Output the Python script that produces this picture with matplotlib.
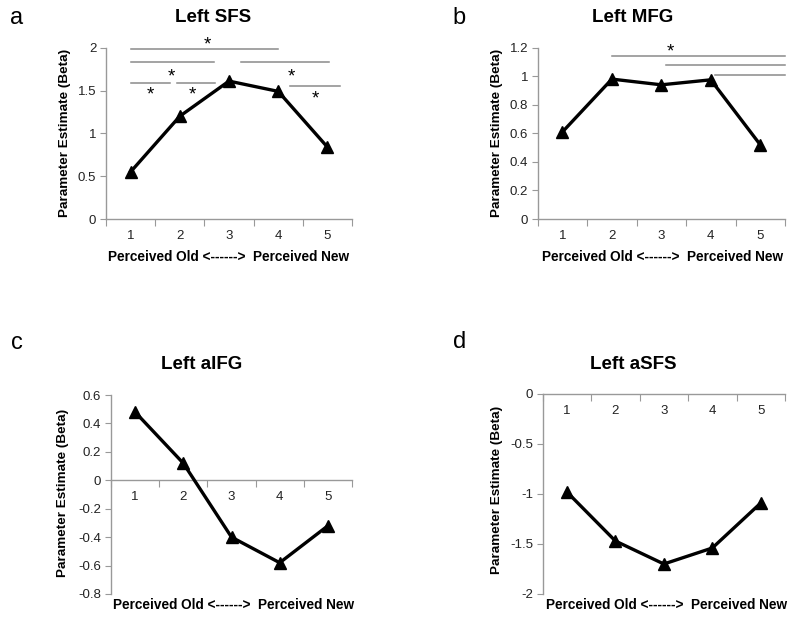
import matplotlib
matplotlib.use("Agg")
import matplotlib.pyplot as plt
from matplotlib.ticker import FuncFormatter, FixedLocator

plt.rcParams['font.family'] = ['Liberation Sans', 'DejaVu Sans']
plt.rcParams['axes.unicode_minus'] = False

categories = [1, 2, 3, 4, 5]
sfs = [0.55, 1.20, 1.61, 1.49, 0.84]
mfg = [0.61, 0.98, 0.94, 0.975, 0.52]
aifg = [0.48, 0.12, -0.40, -0.58, -0.32]
asfs = [-0.98, -1.47, -1.70, -1.54, -1.09]

# significance bars: (x_start, x_end, y)
sfs_bars = [(1.0, 4.0, 1.99), (1.0, 2.7, 1.835), (3.24, 5.03, 1.835),
            (1.0, 1.8, 1.59), (1.94, 2.72, 1.59), (4.24, 5.25, 1.555)]
sfs_stars = [(2.57, 2.03), (1.82, 1.66), (4.26, 1.66), (1.41, 1.45), (2.26, 1.45), (4.75, 1.40)]
mfg_bars = [(2.01, 5.5, 1.145), (3.09, 5.5, 1.078), (4.08, 5.5, 1.01)]
mfg_stars = [(3.19, 1.17)]

W, H = 800, 621
fig = plt.figure(figsize=(8, 6.21), dpi=100)

def px_axes(left, right, top, bottom):
    return fig.add_axes([left / W, 1 - bottom / H, (right - left) / W, (bottom - top) / H])

def fmt(v, pos):
    return '%g' % round(v, 2)

def style(ax, vals, ylim, yticks, spine_at_zero=False):
    ax.plot(categories, vals, color='black', lw=2.4, marker='^', ms=8, zorder=3, clip_on=False)
    ax.set_xlim(0.5, 5.5)
    ax.set_ylim(*ylim)
    ax.set_yticks(yticks)
    ax.yaxis.set_major_formatter(FuncFormatter(fmt))
    ax.xaxis.set_major_locator(FixedLocator([0.5, 1.5, 2.5, 3.5, 4.5, 5.5]))
    ax.xaxis.set_major_formatter(FuncFormatter(lambda v, p: ''))
    ax.xaxis.set_minor_locator(FixedLocator(categories))
    ax.xaxis.set_minor_formatter(FuncFormatter(lambda v, p: '%d' % v))
    ax.tick_params(axis='x', which='minor', length=0, labelsize=9.5, colors='#222222', pad=8)
    ax.tick_params(axis='x', which='major', length=5, color='#999999', direction='out')
    ax.tick_params(axis='y', length=4, color='#999999', labelsize=9.5, labelcolor='#222222', pad=3)
    for s in ['top', 'right']:
        ax.spines[s].set_visible(False)
    for s in ['left', 'bottom']:
        ax.spines[s].set_color('#999999')
        ax.spines[s].set_linewidth(1.0)
    if spine_at_zero:
        ax.spines['bottom'].set_position(('data', 0))
    ax.patch.set_alpha(0)

ylab = 'Parameter Estimate (Beta)'
xlab = 'Perceived Old <------>  Perceived New'

# Panel a
axa = px_axes(106, 352, 47.7, 219)
style(axa, sfs, (0, 2), [0, 0.5, 1, 1.5, 2])
for x0, x1, y in sfs_bars:
    axa.plot([x0, x1], [y, y], color='#8a8a8a', lw=1.1, clip_on=False)
for x, y in sfs_stars:
    axa.text(x, y, '*', ha='center', va='center', fontsize=13.5, clip_on=False)

# Panel b
axb = px_axes(537.7, 785, 47.7, 219)
style(axb, mfg, (0, 1.2), [0, 0.2, 0.4, 0.6, 0.8, 1.0, 1.2])
for x0, x1, y in mfg_bars:
    axb.plot([x0, x1], [y, y], color='#8a8a8a', lw=1.1, clip_on=False)
for x, y in mfg_stars:
    axb.text(x, y, '*', ha='center', va='center', fontsize=13.5, clip_on=False)

# Panel c
axc = px_axes(111, 352, 395, 594)
style(axc, aifg, (-0.8, 0.6), [-0.8, -0.6, -0.4, -0.2, 0, 0.2, 0.4, 0.6], spine_at_zero=True)

# Panel d
axd = px_axes(542.7, 785, 394, 594)
style(axd, asfs, (-2, 0), [-2, -1.5, -1, -0.5, 0], spine_at_zero=True)

def ftext(x, y, s, **kw):
    fig.text(x / W, 1 - y / H, s, **kw)

# titles
ftext(213, 18, 'Left SFS', ha='center', va='center', fontsize=13.5, fontweight='bold')
ftext(633, 18, 'Left MFG', ha='center', va='center', fontsize=13.5, fontweight='bold')
ftext(202, 365, 'Left aIFG', ha='center', va='center', fontsize=13.5, fontweight='bold')
ftext(633, 365, 'Left aSFS', ha='center', va='center', fontsize=13.5, fontweight='bold')

# panel letters
ftext(17, 18, 'a', ha='center', va='center', fontsize=17)
ftext(459, 18, 'b', ha='center', va='center', fontsize=17)
ftext(17, 343, 'c', ha='center', va='center', fontsize=17)
ftext(460, 342, 'd', ha='center', va='center', fontsize=17)

# x labels
ftext(229, 257, xlab, ha='center', va='center', fontsize=9.8, fontweight='bold')
ftext(663, 257, xlab, ha='center', va='center', fontsize=9.8, fontweight='bold')
ftext(234, 605, xlab, ha='center', va='center', fontsize=9.8, fontweight='bold')
ftext(667, 605, xlab, ha='center', va='center', fontsize=9.8, fontweight='bold')

# y labels
ftext(65, 133, ylab, ha='center', va='center', fontsize=9.7, fontweight='bold', rotation=90)
ftext(497, 133, ylab, ha='center', va='center', fontsize=9.7, fontweight='bold', rotation=90)
ftext(63, 493, ylab, ha='center', va='center', fontsize=9.7, fontweight='bold', rotation=90)
ftext(497, 490, ylab, ha='center', va='center', fontsize=9.7, fontweight='bold', rotation=90)

fig.savefig('out.png', dpi=100, facecolor='white')
